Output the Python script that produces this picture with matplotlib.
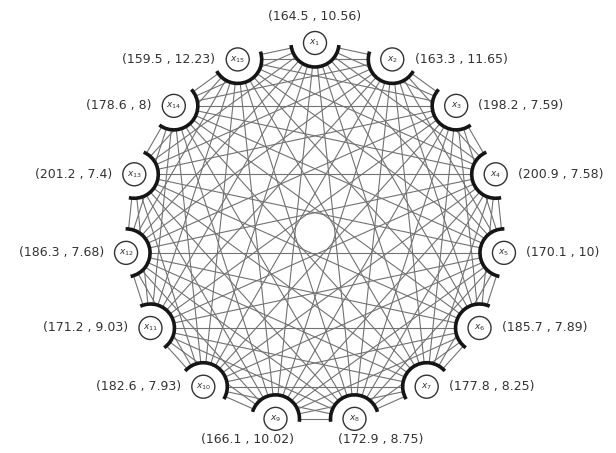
import numpy as np
import matplotlib
matplotlib.use("Agg")
from matplotlib import pyplot as plt
from matplotlib.patches import Circle, Arc

# node names and (mean , std) shown next to each node, clockwise from the top
nodes = ["x_{%d}" % i for i in range(1, 16)]
means = [164.5, 163.3, 198.2, 200.9, 170.1, 185.7, 177.8, 172.9,
         166.1, 182.6, 171.2, 186.3, 201.2, 178.6, 159.5]
stds = ["10.56", "11.65", "7.59", "7.58", "10", "7.89", "8.25", "8.75",
        "10.02", "7.93", "9.03", "7.68", "7.4", "8", "12.23"]

n = len(nodes)
px = 190.0                      # pixels per unit radius
r_node = 11.5 / px
r_arc = 24 / px

ang = np.deg2rad(90 - np.arange(n) * 360.0 / n)
xs = np.cos(ang)
ys = np.sin(ang)

fig = plt.figure(figsize=(6.16, 4.53), dpi=100)
ax = fig.add_axes([0, 0, 1, 1])
ax.set_xlim(-315 / px, 301 / px)
ax.set_ylim(-220 / px, 233 / px)
ax.set_aspect("equal")
ax.axis("off")

# complete graph: every pair of nodes joined
for i in range(n):
    for j in range(i + 1, n):
        ax.plot([xs[i], xs[j]], [ys[i], ys[j]], color="#727272", lw=0.8, zorder=1)

for i in range(n):
    # blank out the edges right around the node
    ax.add_patch(Circle((xs[i], ys[i]), r_arc, facecolor="white", edgecolor="none", zorder=2))
    # thick arc facing the centre
    facing = np.degrees(ang[i]) + 180
    ax.add_patch(Arc((xs[i], ys[i]), 2 * r_arc, 2 * r_arc, theta1=facing - 85,
                     theta2=facing + 85, color="#151515", lw=2.6, zorder=3))
    ax.add_patch(Circle((xs[i], ys[i]), r_node, facecolor="white", edgecolor="#333333",
                        lw=1.0, zorder=4))
    ax.text(xs[i], ys[i], "$%s$" % nodes[i], ha="center", va="center", fontsize=6.5,
            color="#333333", zorder=5)

    label = "(%s , %s)" % (means[i], stds[i])
    c = np.cos(ang[i])
    s = np.sin(ang[i])
    if abs(c) < 0.1:
        off = (0, 19)
        ha = "center"
    elif abs(c) < 0.3:
        # the two bottom nodes: labels pushed apart sideways
        off = (19 if c > 0 else -20, -15)
        ha = "center"
    else:
        off = (16 if c > 0 else -16, 0)
        ha = "left" if c > 0 else "right"
    ax.annotate(label, (xs[i], ys[i]), xytext=off, textcoords="offset points",
                ha=ha, va="center", fontsize=9, family="DejaVu Sans", color="#333333")

fig.savefig("out.png", dpi=100)
